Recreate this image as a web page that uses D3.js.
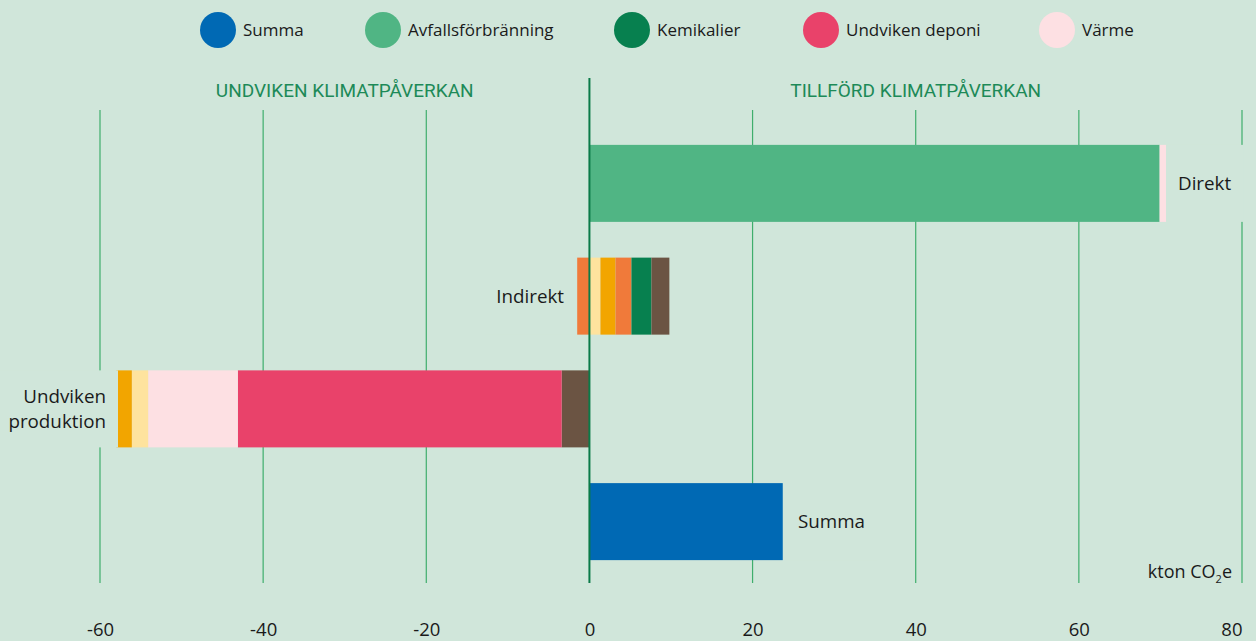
<!DOCTYPE html>
<html>
<head>
<meta charset="utf-8">
<script src="https://cdn.jsdelivr.net/npm/d3@7"></script>
<style>
  html, body { margin: 0; padding: 0; background: #d0e6da; }
  svg { display: block; font-family: "Open Sans", sans-serif; }
</style>
</head>
<body>
<script>
// kategorier (staplar uppifrån och ned)
var categories = ["Direkt", "Indirekt", "Undviken produktion", "Summa"];

// värden per serie, i samma ordning som categories (kton CO2e)
var summa = [0, 0, 0, 23.7];
var avfallsforbranning = [69.9, 0, 0, 0];
var kemikalier = [0, 2.45, 0, 0];
var undvikenDeponi = [0, 0, -39.7, 0];
var varme = [0.85, 0, -11.0, 0];
var transport = [0, 1.95, 0, 0];
var transportNeg = [0, -1.5, 0, 0];
var el = [0, 1.35, -2.0, 0];
var bransle = [0, 1.85, -1.9, 0];
var ovrigt = [0, 2.2, -3.4, 0];

var legendKeys = ["Summa", "Avfallsförbränning", "Kemikalier", "Undviken deponi", "Värme"];
var ticks = [-60, -40, -20, 0, 20, 40, 60, 80];

var colors = {
  "Summa": "#0069b4",
  "Avfallsförbränning": "#50b584",
  "Kemikalier": "#07804f",
  "Undviken deponi": "#e9426a",
  "Värme": "#fde0e3",
  "Transport": "#f07a3a",
  "TransportNeg": "#f07a3a",
  "El": "#fee39e",
  "Bränsle": "#f2a500",
  "Övrigt": "#6b5443"
};

var series = {
  "Summa": summa,
  "Avfallsförbränning": avfallsforbranning,
  "Kemikalier": kemikalier,
  "Undviken deponi": undvikenDeponi,
  "Värme": varme,
  "Transport": transport,
  "TransportNeg": transportNeg,
  "El": el,
  "Bränsle": bransle,
  "Övrigt": ovrigt
};

// staplingsordning utåt från noll
var posOrder = ["Avfallsförbränning", "Värme", "Summa", "El", "Bränsle", "Transport", "Kemikalier", "Övrigt"];
var negOrder = ["TransportNeg", "Övrigt", "Undviken deponi", "Värme", "El", "Bränsle"];

var width = 1256, height = 641;
var bg = "#d0e6da";

var table = categories.map(function (c, i) {
  var row = { category: c };
  Object.keys(series).forEach(function (k) { row[k] = series[k][i]; });
  return row;
});

var posStack = d3.stack().keys(posOrder).value((d, k) => Math.max(0, d[k]))(table);
var negStack = d3.stack().keys(negOrder).value((d, k) => Math.min(0, d[k]))(table);

var x = d3.scaleLinear().domain([-60, 80]).range([100, 1242]);
var y = d3.scaleBand().domain(categories).range([127, 578]).paddingInner(0.317).paddingOuter(0.1585);

var svg = d3.select("body").append("svg").attr("width", width).attr("height", height);
svg.append("rect").attr("width", width).attr("height", height).attr("fill", bg);

// legend
var legendX = [218, 383, 632, 821, 1057];
var legend = svg.append("g").selectAll("g").data(legendKeys).join("g")
  .attr("transform", (d, i) => `translate(${legendX[i]},30)`);
legend.append("circle").attr("r", 18).attr("fill", (d) => colors[d]);
legend.append("text").attr("x", 25).attr("dy", "0.35em")
  .attr("font-size", 17).attr("fill", "#1a1a1a").text((d) => d);

// rubriker
svg.append("g").attr("fill", "#1d8a58").attr("font-family", "Roboto, sans-serif").attr("font-size", 19)
  .attr("text-anchor", "middle")
  .selectAll("text")
  .data([["UNDVIKEN KLIMATPÅVERKAN", (x(-60) + x(0)) / 2], ["TILLFÖRD KLIMATPÅVERKAN", (x(0) + x(80)) / 2]])
  .join("text")
  .attr("x", (d) => d[1]).attr("y", 97).text((d) => d[0]);

// rutnät
svg.append("g").attr("stroke", "#3fae6c").attr("stroke-width", 1.2)
  .selectAll("line").data(ticks.filter((t) => t !== 0)).join("line")
  .attr("x1", (d) => x(d)).attr("x2", (d) => x(d)).attr("y1", 110).attr("y2", 583);

// bakgrund bakom etiketter (bryter rutnätet)
var labelPos = {
  "Direkt": { x: 1178, anchor: "start" },
  "Indirekt": { x: 564, anchor: "end" },
  "Undviken produktion": { x: 106, anchor: "end" },
  "Summa": { x: 798, anchor: "start" }
};
var labels = svg.append("g").attr("font-size", 18.8).attr("fill", "#1a1a1a");
var labelBg = labels.append("g");
categories.forEach(function (c) {
  var p = labelPos[c];
  var lines = c === "Undviken produktion" ? ["Undviken", "produktion"] : [c];
  var cy = y(c) + y.bandwidth() / 2;
  var t = labels.append("text").attr("text-anchor", p.anchor);
  lines.forEach(function (l, i) {
    t.append("tspan").attr("x", p.x)
      .attr("y", cy + (i - (lines.length - 1) / 2) * 25)
      .attr("dy", "0.35em").text(l);
  });
  var bb = t.node().getBBox();
  labelBg.append("rect").attr("x", bb.x - 12).attr("width", bb.width + 24)
    .attr("y", y(c)).attr("height", y.bandwidth()).attr("fill", bg);
});

// staplar
var bars = svg.append("g");
[posStack, negStack].forEach(function (stack) {
  bars.append("g").selectAll("g").data(stack).join("g")
    .attr("fill", (s) => colors[s.key])
    .selectAll("rect").data((s) => s.filter((d) => d[1] !== d[0])).join("rect")
    .attr("x", (d) => x(Math.min(d[0], d[1])))
    .attr("width", (d) => Math.abs(x(d[1]) - x(d[0])))
    .attr("y", (d) => y(d.data.category))
    .attr("height", y.bandwidth());
});
labels.raise();

// nollinje
svg.append("line").attr("x1", x(0)).attr("x2", x(0)).attr("y1", 78).attr("y2", 583)
  .attr("stroke", "#0a7a48").attr("stroke-width", 2);

// x-axel
var axis = svg.append("g").attr("transform", "translate(0,583)")
  .call(d3.axisBottom(x).tickValues(ticks).tickFormat((d) => String(d)).tickSize(0).tickPadding(0));
axis.select(".domain").remove();
axis.selectAll("text").attr("font-family", "Open Sans, sans-serif").attr("font-size", 18.5)
  .attr("fill", "#1a1a1a").attr("dy", null).attr("y", 53);
axis.selectAll(".tick").filter((d) => d === 80).select("text").attr("text-anchor", "end").attr("x", 0);

// enhet
var unit = svg.append("text").attr("x", 1232).attr("y", 578).attr("text-anchor", "end")
  .attr("font-size", 18).attr("fill", "#1a1a1a");
unit.append("tspan").text("kton CO");
unit.append("tspan").attr("font-size", 11).attr("dy", 5).text("2");
unit.append("tspan").attr("dy", -5).text("e");
</script>
</body>
</html>
